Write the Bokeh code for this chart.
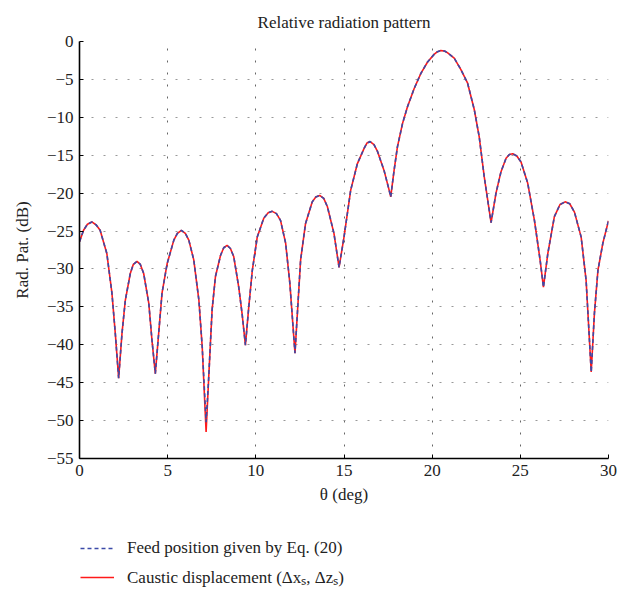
from bokeh.plotting import figure
from bokeh.layouts import column
from bokeh.models import Legend, LegendItem, FixedTicker, ColumnDataSource, Range1d
from bokeh.embed import file_html
from bokeh.resources import INLINE

# ---- data ----
theta = [0.00, 0.23, 0.45, 0.70, 0.95, 1.17, 1.55, 1.84, 2.03, 2.22, 2.41, 2.60, 2.88, 3.05,
         3.26, 3.45, 3.64, 3.93, 4.11, 4.30, 4.49, 4.68, 4.97, 5.35, 5.55, 5.78, 6.00, 6.20,
         6.48, 6.77, 6.96, 7.18, 7.33, 7.52, 7.71, 8.00, 8.18, 8.37, 8.56, 8.75, 9.03, 9.22,
         9.41, 9.60, 9.80, 10.08, 10.45, 10.70, 10.93, 11.17, 11.40, 11.69, 11.93, 12.22,
         12.39, 12.54, 12.82, 13.20, 13.40, 13.62, 13.85, 14.06, 14.43, 14.72, 15.00, 15.38,
         15.76, 16.14, 16.30, 16.48, 16.70, 16.90, 17.27, 17.56, 17.65, 17.84, 18.03, 18.32,
         18.60, 18.98, 19.36, 19.74, 20.11, 20.30, 20.49, 20.70, 20.88, 21.25, 21.63, 22.01,
         22.39, 22.67, 22.95, 23.34, 23.62, 23.90, 24.19, 24.38, 24.57, 24.80, 25.04, 25.42,
         25.80, 26.12, 26.31, 26.56, 26.93, 27.25, 27.54, 27.80, 28.07, 28.45, 28.73, 29.02,
         29.20, 29.40, 29.68, 30.00]

caustic = [-26.4, -24.9, -24.1, -23.8, -24.2, -24.9, -27.95, -33.2, -38.5, -44.4, -38.5, -34.1,
           -30.6, -29.4, -29.0, -29.4, -30.6, -34.55, -39.4, -43.8, -38.5, -33.2, -29.3, -26.2,
           -25.3, -24.9, -25.3, -26.2, -28.8, -34.1, -40.3, -51.5, -44.2, -35.4, -31.0, -28.2,
           -27.2, -26.9, -27.3, -28.4, -32.4, -35.9, -40.05, -35.0, -30.2, -25.8, -23.3, -22.6,
           -22.4, -22.7, -23.6, -26.6, -31.9, -41.1, -34.55, -28.8, -24.0, -21.15, -20.5, -20.3,
           -20.7, -21.8, -25.3, -29.8, -25.8, -19.6, -16.1, -14.1, -13.4, -13.2, -13.6, -14.5,
           -17.0, -19.6, -20.5, -17.0, -13.9, -10.8, -8.6, -6.2, -4.2, -2.7, -1.7, -1.35, -1.2,
           -1.25, -1.5, -2.2, -3.7, -5.5, -9.0, -12.6, -17.8, -23.9, -20.0, -17.2, -15.4, -14.9,
           -14.8, -15.1, -15.9, -18.7, -23.6, -28.8, -32.4, -27.95, -23.1, -21.5, -21.15, -21.4,
           -22.5, -25.8, -31.5, -43.6, -35.9, -30.2, -26.6, -23.65]

feed = [-26.4, -24.9, -24.1, -23.8, -24.2, -24.9, -27.95, -33.2, -38.5, -44.4, -38.5, -34.1,
        -30.6, -29.4, -29.0, -29.4, -30.6, -34.55, -39.4, -43.8, -38.5, -33.2, -29.3, -26.2,
        -25.3, -24.9, -25.3, -26.2, -28.8, -34.1, -40.3, -50.2, -44.2, -35.4, -31.0, -28.2,
        -27.2, -26.9, -27.3, -28.4, -32.4, -35.9, -40.05, -35.0, -30.2, -25.8, -23.3, -22.6,
        -22.4, -22.7, -23.6, -26.6, -31.9, -41.1, -34.55, -28.8, -24.0, -21.15, -20.5, -20.3,
        -20.7, -21.8, -25.3, -29.8, -25.8, -19.6, -16.1, -14.1, -13.4, -13.2, -13.6, -14.5,
        -17.0, -19.6, -20.5, -17.0, -13.9, -10.8, -8.6, -6.2, -4.2, -2.7, -1.7, -1.35, -1.2,
        -1.25, -1.5, -2.2, -3.7, -5.5, -9.0, -12.6, -17.8, -23.9, -20.0, -17.2, -15.4, -14.9,
        -14.8, -15.1, -15.9, -18.7, -23.6, -28.8, -32.4, -27.95, -23.1, -21.5, -21.15, -21.4,
        -22.5, -25.8, -31.5, -43.6, -35.9, -30.2, -26.6, -23.65]

x_ticks = [0, 5, 10, 15, 20, 25, 30]
y_ticks = [0, -5, -10, -15, -20, -25, -30, -35, -40, -45, -50, -55]
y_tick_labels = ["0", "\u22125", "\u221210", "\u221215", "\u221220", "\u221225", "\u221230",
                 "\u221235", "\u221240", "\u221245", "\u221250", "\u221255"]

title_text = "Relative radiation pattern"
x_label = "\u03b8 (deg)"
y_label = "Rad. Pat. (dB)"
label_feed = "Feed position given by Eq. (20)"
label_caustic = "Caustic displacement (\u0394x\u209b, \u0394z\u209b)"

FONT = "Liberation Serif"
RED = "#ff1a1a"
BLUE = "#3b4aa8"

p = figure(frame_width=529, frame_height=417, output_backend="svg", toolbar_location=None,
           x_range=Range1d(0, 30), y_range=Range1d(-55, 0),
           min_border_left=79, min_border_right=13, min_border_top=0, min_border_bottom=57)

p.title.text = title_text
p.title.align = "center"
p.title.vertical_align = "bottom"
p.title.text_font = FONT
p.title.text_font_size = "17px"
p.title.text_font_style = "normal"
p.title.text_color = "#222222"
p.title.standoff = 20

src = ColumnDataSource(dict(theta=theta, caustic=caustic, feed=feed))
p.line("theta", "caustic", source=src, line_color=RED, line_width=1.6)
p.line("theta", "feed", source=src, line_color=BLUE, line_width=1.6, line_dash="4 3")

p.outline_line_color = None
p.background_fill_color = "white"
p.border_fill_color = "white"

for ax in (p.xaxis[0], p.yaxis[0]):
    ax.axis_line_color = "black"
    ax.axis_line_width = 1.6
    ax.major_tick_in = 4
    ax.major_tick_out = 0
    ax.major_tick_line_color = "black"
    ax.minor_tick_line_color = None
    ax.major_label_text_font = FONT
    ax.major_label_text_font_size = "17px"
    ax.major_label_text_color = "#222222"
    ax.axis_label_text_font = FONT
    ax.axis_label_text_font_size = "17px"
    ax.axis_label_text_font_style = "normal"
    ax.axis_label_text_color = "#222222"

p.xaxis[0].ticker = FixedTicker(ticks=x_ticks)
p.yaxis[0].ticker = FixedTicker(ticks=y_ticks)
p.yaxis[0].major_label_overrides = {t: l for t, l in zip(y_ticks, y_tick_labels)}
p.xaxis[0].axis_label = x_label
p.yaxis[0].axis_label = y_label
p.xaxis[0].major_label_standoff = 6
p.yaxis[0].major_label_standoff = 6
p.xaxis[0].axis_label_standoff = 6
p.yaxis[0].axis_label_standoff = 12

p.xgrid.grid_line_color = "#666666"
p.xgrid.grid_line_dash = "2 10"
p.xgrid.grid_line_width = 1
p.ygrid.grid_line_color = "#999999"
p.ygrid.grid_line_dash = "2 10"
p.ygrid.grid_line_width = 1

# ---- legend strip below the chart ----
pl = figure(width=621, height=77, output_backend="svg", toolbar_location=None,
            x_range=Range1d(100, 101), y_range=Range1d(100, 101),
            min_border=0, min_border_left=0, min_border_right=0,
            min_border_top=0, min_border_bottom=0)
pl.axis.visible = False
pl.grid.visible = False
pl.outline_line_color = None
pl.background_fill_color = "white"
pl.border_fill_color = "white"
lf = pl.line("theta", "feed", source=src, line_color=BLUE, line_width=1.6, line_dash="4 3")
lc = pl.line("theta", "caustic", source=src, line_color=RED, line_width=1.6)

legend = Legend(items=[LegendItem(label=label_feed, renderers=[lf]),
                       LegendItem(label=label_caustic, renderers=[lc])],
                location=(1, 4), orientation="vertical",
                border_line_color=None, background_fill_alpha=0,
                label_text_font=FONT, label_text_font_size="17px", label_text_color="#222222",
                glyph_width=34, glyph_height=22, label_height=22, label_standoff=13,
                spacing=6, padding=0, margin=0)
pl.add_layout(legend)

layout = column(p, pl, spacing=0)
open("out.html", "w").write(file_html(layout, INLINE))
